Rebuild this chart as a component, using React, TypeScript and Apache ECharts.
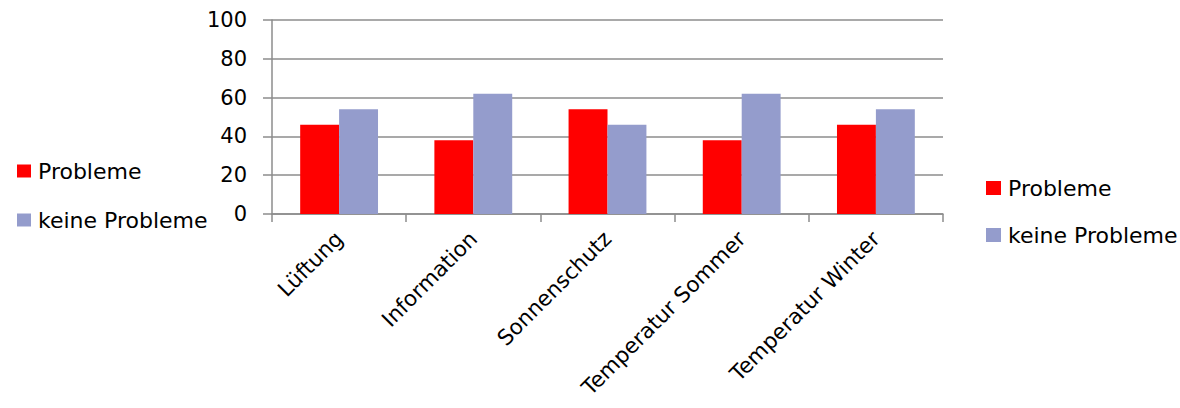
import React, { useEffect, useRef } from "react";
import * as echarts from "echarts";

const categories = ["Lüftung", "Information", "Sonnenschutz", "Temperatur Sommer", "Temperatur Winter"];
const probleme = [46, 38, 54, 38, 46];
const keineProbleme = [54, 62, 46, 62, 54];
const seriesNames = ["Probleme", "keine Probleme"];
const yTicks = { min: 0, max: 100, interval: 20 };

const FONT = "'DejaVu Sans', sans-serif";

export default function App() {
  const ref = useRef<HTMLDivElement>(null);
  useEffect(() => {
    if (!ref.current) return;
    const chart = echarts.init(ref.current, undefined, { renderer: "svg" });
    const legendCommon = {
      orient: "vertical" as const,
      icon: "rect",
      selectedMode: false,
      data: seriesNames,
      padding: 0,
    };
    chart.setOption({
      animation: false,
      color: ["#FF0000", "#949CCC"],
      legend: [
        {
          ...legendCommon,
          left: 17,
          top: 160,
          itemGap: 27,
          itemWidth: 14,
          itemHeight: 13,
          textStyle: { fontFamily: FONT, fontSize: 22, lineHeight: 22, color: "#000", padding: [0, 0, 0, 2] },
        },
        {
          ...legendCommon,
          left: 986,
          top: 177,
          itemGap: 25,
          itemWidth: 15,
          itemHeight: 14,
          textStyle: { fontFamily: FONT, fontSize: 22, lineHeight: 22, color: "#000", padding: [0, 0, 0, 2] },
        },
      ],
      grid: {
        left: 272,
        right: 237,
        top: 20,
        bottom: 194,
        containLabel: false,
        outerBoundsMode: "none",
      },
      xAxis: {
        type: "category",
        data: categories,
        axisLine: { lineStyle: { color: "#8c8c8c", width: 1.5 } },
        axisTick: { show: true, length: 8, lineStyle: { color: "#8c8c8c", width: 1.5 } },
        axisLabel: {
          rotate: 45,
          interval: 0,
          margin: 21,
          fontFamily: FONT,
          fontSize: 21.5,
          color: "#000",
        },
      },
      yAxis: {
        type: "value",
        min: yTicks.min,
        max: yTicks.max,
        interval: yTicks.interval,
        axisLine: { show: true, lineStyle: { color: "#8c8c8c", width: 1.5 } },
        axisTick: { show: true, length: 9, lineStyle: { color: "#8c8c8c", width: 1.5 } },
        splitLine: { lineStyle: { color: "#8c8c8c", width: 1.5 } },
        axisLabel: { fontFamily: FONT, fontSize: 21, color: "#000", margin: 25 },
      },
      series: [
        {
          name: seriesNames[0],
          type: "bar",
          data: probleme,
          barGap: "0%",
          barCategoryGap: "42%",
        },
        {
          name: seriesNames[1],
          type: "bar",
          data: keineProbleme,
          barGap: "0%",
          barCategoryGap: "42%",
        },
      ],
    });
    return () => chart.dispose();
  }, []);
  return (
    <div
      ref={ref}
      style={{ position: "absolute", left: 0, top: 0, width: 1180, height: 408 }}
    />
  );
}
